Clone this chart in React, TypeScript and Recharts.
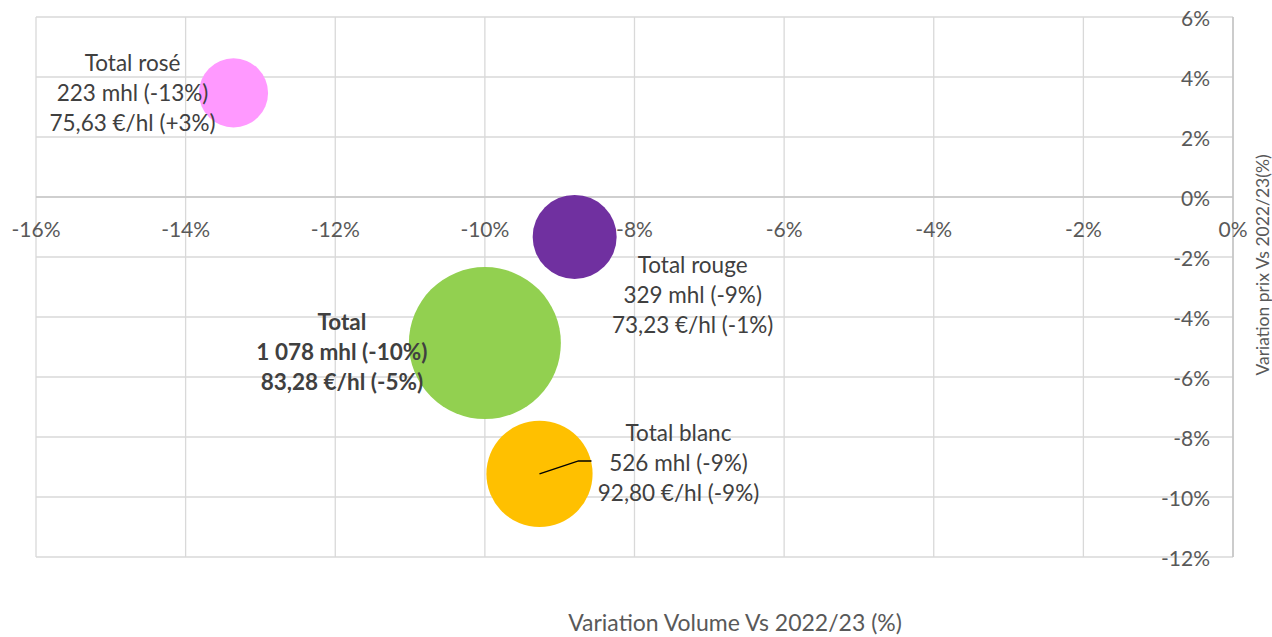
import React from "react";
import {
  CartesianGrid,
  Cell,
  ReferenceLine,
  Scatter,
  ScatterChart,
  XAxis,
  YAxis,
  ZAxis,
} from "recharts";

document.body.style.margin = "0";

// data
const segments = ["Total rosé", "Total rouge", "Total", "Total blanc"];
const volumeChange = [-13.36, -8.8, -10.0, -9.27]; // %
const priceChange = [3.47, -1.33, -4.87, -9.23]; // %
const volumes = [223, 329, 1078, 526]; // mhl
const volumeLabels = ["223 mhl (-13%)", "329 mhl (-9%)", "1 078 mhl (-10%)", "526 mhl (-9%)"];
const priceLabels = ["75,63 €/hl (+3%)", "73,23 €/hl (-1%)", "83,28 €/hl (-5%)", "92,80 €/hl (-9%)"];
const xTicks = [-16, -14, -12, -10, -8, -6, -4, -2, 0];
const yTicks = [-12, -10, -8, -6, -4, -2, 0, 2, 4, 6];

const COLORS = ["#FF99FF", "#7030A0", "#92D050", "#FFC000"];
// label placement relative to the bubble centre (middle line)
const LABEL_OFFSETS = [
  [-101, 0],
  [118, 58],
  [-143, 8],
  [139, -11],
];
const BOLD = [false, false, true, false];
const LEADERS: Array<number[] | null> = [null, null, null, [39, -13, 52, -13]];

const W = 1272;
const H = 637;
const PLOT_LEFT = 36;
const PLOT_RIGHT = 1233;
const PLOT_TOP = 17;
const PLOT_BOTTOM = 557;
const Y_MIN = -12;
const Y_MAX = 6;
const ZERO_Y = PLOT_TOP + ((PLOT_BOTTOM - PLOT_TOP) * Y_MAX) / (Y_MAX - Y_MIN);
const FONT = "Lato, 'Open Sans', sans-serif";
const TICK_COLOR = "#595959";
const TEXT_COLOR = "#404040";

const data = segments.map((name, i) => ({
  name,
  x: volumeChange[i],
  y: priceChange[i],
  z: volumes[i],
  idx: i,
}));

const pct = (v: number) => `${v}%`;

function XTick(props: any) {
  const { x, payload } = props;
  return (
    <text x={x} y={ZERO_Y + 31} textAnchor="middle" dominantBaseline="central" fill={TICK_COLOR} fontSize={21} fontFamily={FONT}>
      {pct(payload.value)}
    </text>
  );
}

function YTick(props: any) {
  const { y, payload } = props;
  return (
    <text x={PLOT_RIGHT - 23} y={y} textAnchor="end" dominantBaseline="central" fill={TICK_COLOR} fontSize={21} fontFamily={FONT}>
      {pct(payload.value)}
    </text>
  );
}

function Bubble(props: any) {
  const { cx, cy, fill, payload, width, size } = props;
  const r = width ? width / 2 : Math.sqrt((size || 0) / Math.PI);
  const i = payload.idx;
  const [dx, dy] = LABEL_OFFSETS[i];
  const lead = LEADERS[i];
  const lines = [segments[i], volumeLabels[i], priceLabels[i]];
  return (
    <g>
      <circle cx={cx} cy={cy} r={r} fill={fill} />
      {lead && (
        <polyline
          points={`${cx},${cy} ${cx + lead[0]},${cy + lead[1]} ${cx + lead[2]},${cy + lead[3]}`}
          fill="none"
          stroke="#000"
          strokeWidth={1.5}
        />
      )}
      {lines.map((t, k) => (
        <text
          key={k}
          x={cx + dx}
          y={cy + dy + (k - 1) * 30}
          textAnchor="middle"
          dominantBaseline="central"
          fill={TEXT_COLOR}
          fontSize={22.5}
          fontWeight={BOLD[i] ? 700 : 400}
          fontFamily={FONT}
        >
          {t}
        </text>
      ))}
    </g>
  );
}

export default function App() {
  return (
    <ScatterChart
      width={W}
      height={H}
      margin={{ top: PLOT_TOP, right: W - PLOT_RIGHT - 60, bottom: H - PLOT_BOTTOM - 30, left: PLOT_LEFT }}
    >
      <CartesianGrid stroke="#D9D9D9" strokeWidth={1.3} />
      <XAxis
        type="number"
        dataKey="x"
        domain={[-16, 0]}
        ticks={xTicks}
        height={30}
        axisLine={false}
        tickLine={false}
        tick={<XTick />}
        interval={0}
      />
      <YAxis
        type="number"
        dataKey="y"
        orientation="right"
        width={60}
        domain={[Y_MIN, Y_MAX]}
        ticks={yTicks}
        axisLine={false}
        tickLine={false}
        tick={<YTick />}
        interval={0}
      />
      <ZAxis type="number" dataKey="z" domain={[0, 1078]} range={[0, Math.PI * 76 * 76]} />
      <ReferenceLine y={0} stroke="#C8C8C8" strokeWidth={1.3} />
      <ReferenceLine x={0} stroke="#BFBFBF" strokeWidth={1.3} />
      <Scatter data={data} shape={<Bubble />} isAnimationActive={false}>
        {data.map((d, i) => (
          <Cell key={d.name} fill={COLORS[i]} />
        ))}
      </Scatter>
      <text x={735} y={622} textAnchor="middle" dominantBaseline="central" fill={TICK_COLOR} fontSize={23} fontFamily={FONT}>
        Variation Volume Vs 2022/23 (%)
      </text>
      <text
        x={1262}
        y={265}
        textAnchor="middle"
        dominantBaseline="central"
        fill={TICK_COLOR}
        fontSize={17.5}
        fontFamily={FONT}
        transform="rotate(-90 1262 265)"
      >
        Variation prix Vs 2022/23(%)
      </text>
    </ScatterChart>
  );
}
